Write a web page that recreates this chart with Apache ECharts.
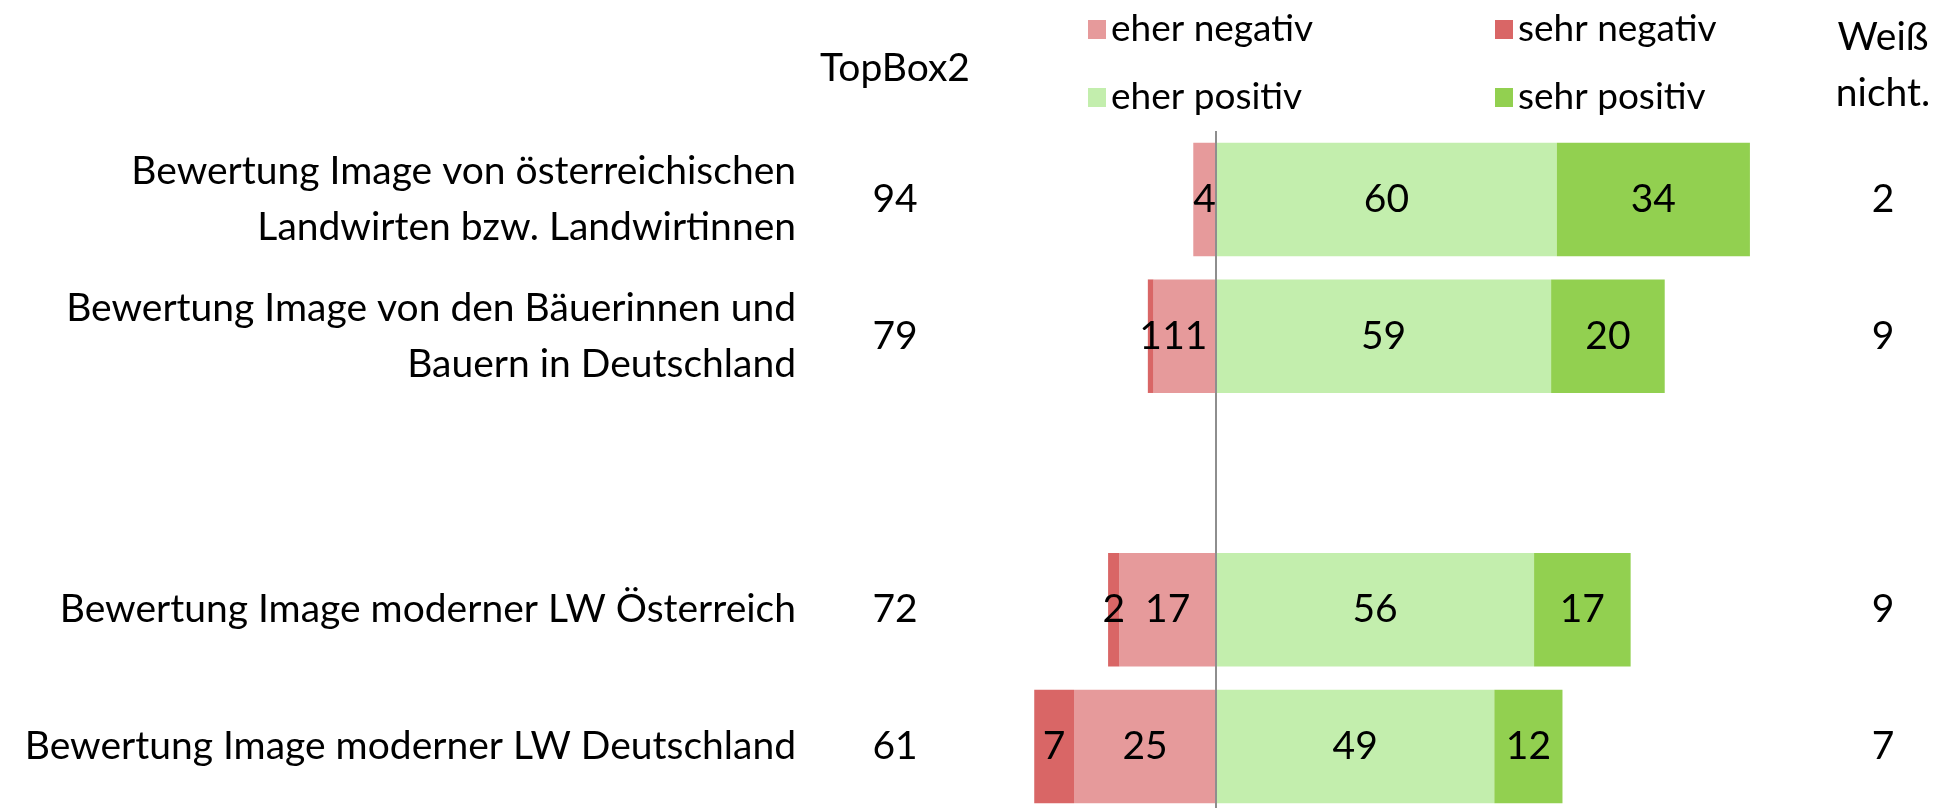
<!DOCTYPE html>
<html><head><meta charset="utf-8">
<script src="https://cdn.jsdelivr.net/npm/echarts@6/dist/echarts.min.js"></script>
<style>html,body{margin:0;padding:0;background:#fff}#c{width:1949px;height:808px}</style>
</head><body><div id="c"></div>
<script>
const categories = [
  'Bewertung Image von österreichischen\nLandwirten bzw. Landwirtinnen',
  'Bewertung Image von den Bäuerinnen und\nBauern in Deutschland',
  '',
  'Bewertung Image moderner LW Österreich',
  'Bewertung Image moderner LW Deutschland'
];
const eherNegativ = [4, 11, null, 17, 25];
const sehrNegativ = [0, 1, null, 2, 7];
const eherPositiv = [60, 59, null, 56, 49];
const sehrPositiv = [34, 20, null, 17, 12];
const topBox2 = [94, 79, null, 72, 61];
const weissNicht = [2, 9, null, 9, 7];
const seriesNames = ['eher negativ', 'sehr negativ', 'eher positiv', 'sehr positiv'];
const colors = ['#E69A9B', '#D96666', '#C3EEAD', '#92D050'];

const FONT = 'Lato';
const neg = a => a.map(v => v == null ? null : -v);
const lbl = {
  show: true, position: 'inside', color: '#000', fontFamily: FONT, fontSize: 39,
  formatter: p => (p.value ? Math.abs(p.value) : '')
};
function bar(name, data, color, extra) {
  return Object.assign({
    name, type: 'bar', stack: 'all', data, barWidth: '83%',
    itemStyle: { color }, label: lbl, emphasis: { disabled: true }, silent: true
  }, extra || {});
}
const legendPos = [[1083, 6], [1490, 6], [1083, 74], [1490, 74]];
const chart = echarts.init(document.getElementById('c'));
chart.setOption({
  animation: false,
  color: colors,
  textStyle: { fontFamily: FONT },
  legend: seriesNames.map((n, i) => ({
    data: [n], left: legendPos[i][0], top: legendPos[i][1], icon: 'rect',
    itemWidth: 18, itemHeight: 19, itemGap: 8, selectedMode: false,
    textStyle: { fontFamily: FONT, fontSize: 37, color: '#000' }
  })),
  grid: { left: 932, right: 165, top: 131, height: 684, outerBoundsMode: 'none', containLabel: false },
  xAxis: { type: 'value', min: -50, max: 100, show: false, axisLine: { onZero: false } },
  yAxis: [
    { type: 'category', data: categories, inverse: true,
      axisLine: { show: false, onZero: false }, axisTick: { show: false }, splitLine: { show: false },
      axisLabel: { margin: 136, fontFamily: FONT, fontSize: 39, lineHeight: 56, color: '#000', align: 'right' } },
    { type: 'category', data: categories, inverse: true, position: 'left',
      axisLine: { show: false, onZero: false }, axisTick: { show: false }, splitLine: { show: false },
      axisLabel: { margin: 37, align: 'center', fontFamily: FONT, fontSize: 39, color: '#000',
        formatter: (v, i) => (topBox2[i] == null ? '' : String(topBox2[i])) } },
    { type: 'category', data: categories, inverse: true, position: 'right',
      axisLine: { show: false, onZero: false }, axisTick: { show: false }, splitLine: { show: false },
      axisLabel: { margin: 99, align: 'center', fontFamily: FONT, fontSize: 39, color: '#000',
        formatter: (v, i) => (weissNicht[i] == null ? '' : String(weissNicht[i])) } }
  ],
  series: [
    bar(seriesNames[0], neg(eherNegativ), colors[0], {
      markLine: { silent: true, symbol: 'none', label: { show: false },
        lineStyle: { color: '#8E8E8E', width: 2, type: 'solid' }, data: [{ xAxis: 0 }] }
    }),
    bar(seriesNames[1], neg(sehrNegativ), colors[1]),
    bar(seriesNames[2], eherPositiv, colors[2]),
    bar(seriesNames[3], sehrPositiv, colors[3])
  ],
  graphic: [
    { type: 'text', x: 895, y: 68, style: { text: 'TopBox2', fill: '#000', font: '39px ' + FONT, textAlign: 'center', textVerticalAlign: 'middle' } },
    { type: 'text', x: 1883, y: 37, style: { text: 'Weiß', fill: '#000', font: '39px ' + FONT, textAlign: 'center', textVerticalAlign: 'middle' } },
    { type: 'text', x: 1883, y: 93, style: { text: 'nicht.', fill: '#000', font: '39px ' + FONT, textAlign: 'center', textVerticalAlign: 'middle' } }
  ]
});
</script></body></html>
